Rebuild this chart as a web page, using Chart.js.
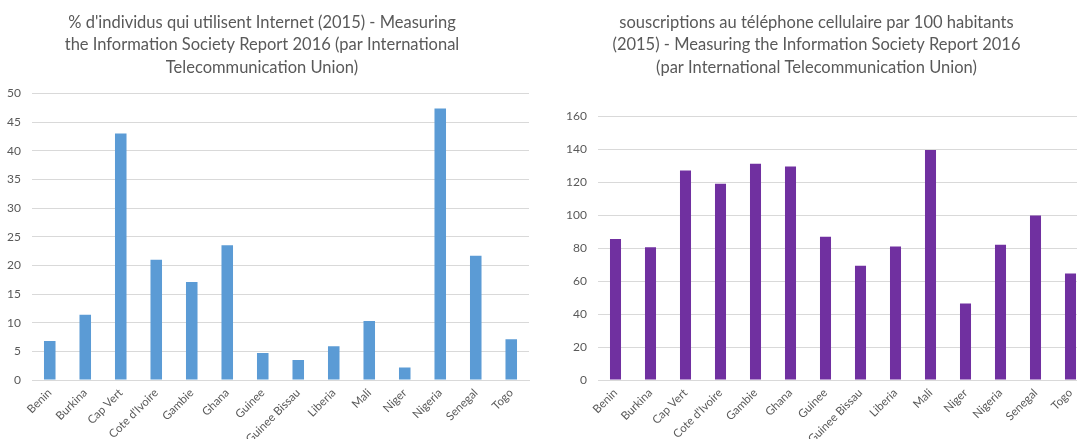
<!DOCTYPE html>
<html>
<head>
<meta charset="utf-8">
<script src="https://cdn.jsdelivr.net/npm/chart.js@4.4.1/dist/chart.umd.min.js"></script>
<style>
  html, body { margin: 0; padding: 0; background: #fff; }
  #wrap { position: relative; width: 1077px; height: 439px; overflow: hidden; background: #fff; }
  .box { position: absolute; top: 0; height: 439px; }
  #b1 { left: -5px; width: 535px; }
  #b2 { left: 545px; width: 558px; }
</style>
</head>
<body>
<div id="wrap">
  <div class="box" id="b1"><canvas id="c1"></canvas></div>
  <div class="box" id="b2"><canvas id="c2"></canvas></div>
</div>
<script>
const categories = ['Benin', 'Burkina', 'Cap Vert', "Cote d'Ivoire", 'Gambie', 'Ghana', 'Guinee', 'Guinee Bissau', 'Liberia', 'Mali', 'Niger', 'Nigeria', 'Senegal', 'Togo'];
const internetUsers = [6.8, 11.4, 43.0, 21.0, 17.1, 23.5, 4.7, 3.5, 5.9, 10.3, 2.2, 47.4, 21.7, 7.1];
const mobileSubs = [85.6, 80.6, 127.2, 119.2, 131.3, 129.7, 87.0, 69.3, 81.0, 139.6, 46.5, 82.2, 99.9, 64.7];
const title1 = ["% d'individus qui utilisent Internet (2015) - Measuring", 'the Information Society Report 2016 (par International', 'Telecommunication Union)'];
const title2 = ['souscriptions au téléphone cellulaire par 100 habitants', '(2015) - Measuring the Information Society Report 2016', '(par International Telecommunication Union)'];
const axis1 = { min: 0, max: 50, step: 5 };
const axis2 = { min: 0, max: 160, step: 20 };

const TXT = '#595959';
const GRID = '#d9d9d9';
const FONT = 'Lato, "Open Sans", sans-serif';

function makeChart(id, data, color, title, axis, opts) {
  return new Chart(document.getElementById(id), {
    type: 'bar',
    data: {
      labels: categories,
      datasets: [{ data: data, backgroundColor: color, borderWidth: 0, barPercentage: opts.barPct, categoryPercentage: 1 }]
    },
    options: {
      responsive: true,
      maintainAspectRatio: false,
      animation: false,
      layout: { padding: { left: 0, right: opts.padRight, top: 0, bottom: 0 } },
      plugins: {
        legend: { display: false },
        tooltip: { enabled: false },
        title: {
          display: true, text: title, color: TXT,
          font: { family: FONT, size: 16.5, weight: 'normal', lineHeight: '22.5px' },
          padding: { top: opts.titleTop, bottom: opts.titleBottom }
        }
      },
      scales: {
        x: {
          grid: { display: false, drawTicks: false },
          border: { display: true, color: GRID, width: 1 },
          ticks: { color: TXT, font: { family: FONT, size: 11.5 }, minRotation: 45, maxRotation: 45, autoSkip: false, padding: 6 },
          afterFit: (s) => { s.height = 439 - 380; }
        },
        y: {
          min: axis.min, max: axis.max,
          grid: { color: GRID, lineWidth: 1, drawTicks: false },
          border: { display: false },
          ticks: { stepSize: axis.step, color: TXT, font: { family: FONT, size: 12 }, padding: 11 },
          afterFit: (s) => { s.width = opts.yWidth; }
        }
      }
    }
  });
}

makeChart('c1', internetUsers, '#5b9bd5', title1, axis1, { barPct: 0.325, padRight: 1, yWidth: 37, titleTop: 11, titleBottom: 15 });
makeChart('c2', mobileSubs, '#7030a0', title2, axis2, { barPct: 0.315, padRight: 15, yWidth: 53, titleTop: 11, titleBottom: 38 });
</script>
</body>
</html>
